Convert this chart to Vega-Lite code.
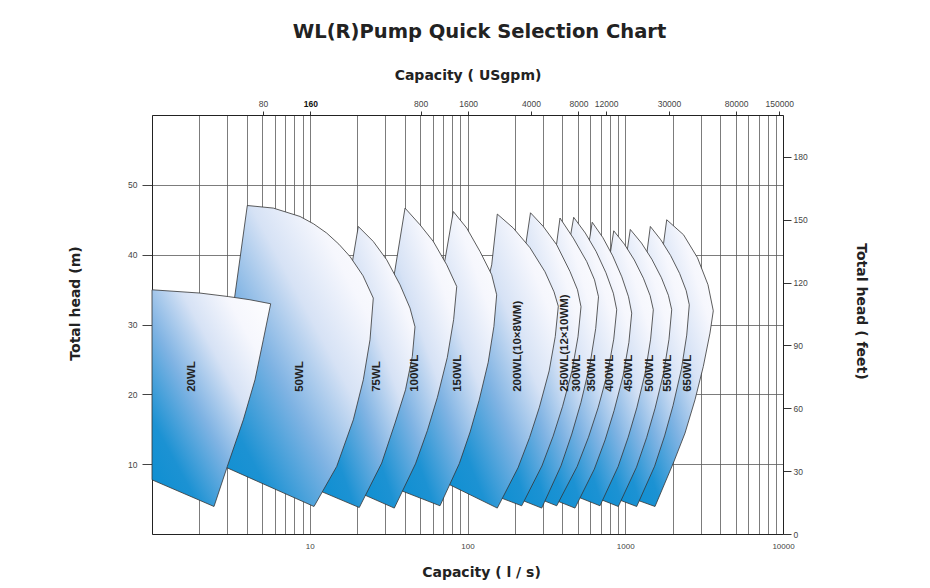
{
"$schema": "https://vega.github.io/schema/vega-lite/v6.json",
"width": 631, "height": 419,
"autosize": {"type": "none"},
"padding": {"left": 152, "top": 115, "right": 147, "bottom": 54},
"background": "white",
"config": {"view": {"stroke": null}, "font": "Liberation Sans"},
"title": {"text": "WL(R)Pump Quick Selection Chart", "font": "DejaVu Sans", "fontSize": 19.5, "fontWeight": "bold", "color": "#222", "dx": 12, "offset": 26},
"datasets": {
"shapes": [
{"pump":"650WL","i":1,"q":1831.4,"h":45.0},{"pump":"650WL","i":2,"q":2341.0,"h":42.85},{"pump":"650WL","i":3,"q":2870.9,"h":39.55},{"pump":"650WL","i":4,"q":3346.0,"h":35.69},{"pump":"650WL","i":5,"q":3615.0,"h":31.96},{"pump":"650WL","i":6,"q":3444.6,"h":28.77},{"pump":"650WL","i":7,"q":3124.8,"h":23.99},{"pump":"650WL","i":8,"q":2768.3,"h":19.22},{"pump":"650WL","i":9,"q":2392.7,"h":14.45},{"pump":"650WL","i":10,"q":2016.4,"h":10.15},{"pump":"650WL","i":11,"q":1544.1,"h":3.94},{"pump":"650WL","i":12,"q":1011.1,"h":5.43},{"pump":"650WL","i":13,"q":1748.0,"h":41.56},{"pump":"650WL","i":14,"q":1831.4,"h":45.0},
{"pump":"550WL","i":1,"q":1441.8,"h":44.04},{"pump":"550WL","i":2,"q":1680.4,"h":42.13},{"pump":"550WL","i":3,"q":1938.7,"h":39.88},{"pump":"550WL","i":4,"q":2211.1,"h":37.31},{"pump":"550WL","i":5,"q":2434.9,"h":34.84},{"pump":"550WL","i":6,"q":2546.8,"h":32.82},{"pump":"550WL","i":7,"q":2452.8,"h":28.48},{"pump":"550WL","i":8,"q":2269.5,"h":23.59},{"pump":"550WL","i":9,"q":2007.6,"h":18.37},{"pump":"550WL","i":10,"q":1776.1,"h":14.05},{"pump":"550WL","i":11,"q":1535.2,"h":9.71},{"pump":"550WL","i":12,"q":1181.9,"h":3.94},{"pump":"550WL","i":13,"q":777.5,"h":5.5},{"pump":"550WL","i":14,"q":1373.8,"h":40.41},{"pump":"550WL","i":15,"q":1441.8,"h":44.04},
{"pump":"500WL","i":1,"q":1076.4,"h":43.61},{"pump":"500WL","i":2,"q":1267.7,"h":41.66},{"pump":"500WL","i":3,"q":1473.7,"h":39.35},{"pump":"500WL","i":4,"q":1695.1,"h":36.7},{"pump":"500WL","i":5,"q":1877.3,"h":34.18},{"pump":"500WL","i":6,"q":1970.3,"h":32.11},{"pump":"500WL","i":7,"q":1893.7,"h":27.88},{"pump":"500WL","i":8,"q":1752.5,"h":23.1},{"pump":"500WL","i":9,"q":1546.1,"h":18.02},{"pump":"500WL","i":10,"q":1365.6,"h":13.79},{"pump":"500WL","i":11,"q":1178.4,"h":9.57},{"pump":"500WL","i":12,"q":903.5,"h":3.94},{"pump":"500WL","i":13,"q":597.7,"h":5.56},{"pump":"500WL","i":14,"q":1025.9,"h":40.41},{"pump":"500WL","i":15,"q":1076.4,"h":43.61},
{"pump":"450WL","i":1,"q":845.3,"h":43.42},{"pump":"450WL","i":2,"q":987.6,"h":41.5},{"pump":"450WL","i":3,"q":1141.2,"h":39.24},{"pump":"450WL","i":4,"q":1303.3,"h":36.63},{"pump":"450WL","i":5,"q":1437.5,"h":34.14},{"pump":"450WL","i":6,"q":1506.3,"h":32.11},{"pump":"450WL","i":7,"q":1448.1,"h":27.9},{"pump":"450WL","i":8,"q":1340.3,"h":23.13},{"pump":"450WL","i":9,"q":1183.6,"h":18.07},{"pump":"450WL","i":10,"q":1044.0,"h":13.86},{"pump":"450WL","i":11,"q":901.0,"h":9.65},{"pump":"450WL","i":12,"q":691.8,"h":4.04},{"pump":"450WL","i":13,"q":433.6,"h":5.87},{"pump":"450WL","i":14,"q":806.6,"h":40.41},{"pump":"450WL","i":15,"q":845.3,"h":43.42},
{"pump":"400WL","i":1,"q":617.4,"h":44.64},{"pump":"400WL","i":2,"q":721.9,"h":42.43},{"pump":"400WL","i":3,"q":832.5,"h":39.83},{"pump":"400WL","i":4,"q":951.0,"h":36.83},{"pump":"400WL","i":5,"q":1048.6,"h":33.97},{"pump":"400WL","i":6,"q":1098.8,"h":31.63},{"pump":"400WL","i":7,"q":1054.6,"h":27.44},{"pump":"400WL","i":8,"q":970.5,"h":22.7},{"pump":"400WL","i":9,"q":849.8,"h":17.67},{"pump":"400WL","i":10,"q":745.5,"h":13.48},{"pump":"400WL","i":11,"q":636.6,"h":9.29},{"pump":"400WL","i":12,"q":480.2,"h":3.71},{"pump":"400WL","i":13,"q":323.8,"h":5.26},{"pump":"400WL","i":14,"q":589.1,"h":41.7},{"pump":"400WL","i":15,"q":617.4,"h":44.64},
{"pump":"350WL","i":1,"q":471.2,"h":45.35},{"pump":"350WL","i":2,"q":558.2,"h":43.1},{"pump":"350WL","i":3,"q":653.5,"h":40.46},{"pump":"350WL","i":4,"q":754.3,"h":37.41},{"pump":"350WL","i":5,"q":840.3,"h":34.48},{"pump":"350WL","i":6,"q":882.8,"h":32.11},{"pump":"350WL","i":7,"q":845.3,"h":27.9},{"pump":"350WL","i":8,"q":774.1,"h":23.13},{"pump":"350WL","i":9,"q":672.9,"h":18.07},{"pump":"350WL","i":10,"q":584.8,"h":13.86},{"pump":"350WL","i":11,"q":495.2,"h":9.65},{"pump":"350WL","i":12,"q":367.7,"h":4.04},{"pump":"350WL","i":13,"q":249.0,"h":5.57},{"pump":"350WL","i":14,"q":449.8,"h":42.7},{"pump":"350WL","i":15,"q":471.2,"h":45.35},
{"pump":"300WL","i":1,"q":385.8,"h":45.24},{"pump":"300WL","i":2,"q":468.5,"h":42.37},{"pump":"300WL","i":3,"q":569.6,"h":39.02},{"pump":"300WL","i":4,"q":638.5,"h":36.4},{"pump":"300WL","i":5,"q":676.8,"h":33.97},{"pump":"300WL","i":6,"q":649.7,"h":29.43},{"pump":"300WL","i":7,"q":597.7,"h":24.29},{"pump":"300WL","i":8,"q":523.6,"h":18.83},{"pump":"300WL","i":9,"q":458.3,"h":14.31},{"pump":"300WL","i":10,"q":391.5,"h":9.77},{"pump":"300WL","i":11,"q":295.4,"h":3.71},{"pump":"300WL","i":12,"q":191.5,"h":5.41},{"pump":"300WL","i":13,"q":366.6,"h":41.44},{"pump":"300WL","i":14,"q":385.8,"h":45.24},
{"pump":"250WL","i":1,"q":250.8,"h":46.0},{"pump":"250WL","i":2,"q":302.3,"h":44.04},{"pump":"250WL","i":3,"q":367.7,"h":41.41},{"pump":"250WL","i":4,"q":446.4,"h":37.59},{"pump":"250WL","i":5,"q":498.2,"h":34.97},{"pump":"250WL","i":6,"q":524.3,"h":32.54},{"pump":"250WL","i":7,"q":501.8,"h":28.25},{"pump":"250WL","i":8,"q":460.3,"h":23.41},{"pump":"250WL","i":9,"q":400.7,"h":18.29},{"pump":"250WL","i":10,"q":348.9,"h":14.01},{"pump":"250WL","i":11,"q":296.2,"h":9.74},{"pump":"250WL","i":12,"q":220.6,"h":4.04},{"pump":"250WL","i":13,"q":138.9,"h":5.76},{"pump":"250WL","i":14,"q":234.9,"h":41.7},{"pump":"250WL","i":15,"q":250.8,"h":46.0},
{"pump":"200WL","i":1,"q":154.5,"h":45.81},{"pump":"200WL","i":2,"q":195.1,"h":43.81},{"pump":"200WL","i":3,"q":249.0,"h":40.99},{"pump":"200WL","i":4,"q":309.9,"h":37.55},{"pump":"200WL","i":5,"q":353.5,"h":34.68},{"pump":"200WL","i":6,"q":376.4,"h":32.61},{"pump":"200WL","i":7,"q":360.0,"h":28.27},{"pump":"200WL","i":8,"q":329.4,"h":23.36},{"pump":"200WL","i":9,"q":285.6,"h":18.16},{"pump":"200WL","i":10,"q":247.6,"h":13.82},{"pump":"200WL","i":11,"q":209.0,"h":9.48},{"pump":"200WL","i":12,"q":154.5,"h":3.71},{"pump":"200WL","i":13,"q":66.94,"h":7.73},{"pump":"200WL","i":14,"q":142.4,"h":38.55},{"pump":"200WL","i":15,"q":154.5,"h":45.81},
{"pump":"150WL","i":1,"q":81.28,"h":46.18},{"pump":"150WL","i":2,"q":98.86,"h":43.81},{"pump":"150WL","i":3,"q":120.0,"h":40.46},{"pump":"150WL","i":4,"q":142.4,"h":37.12},{"pump":"150WL","i":5,"q":153.1,"h":34.25},{"pump":"150WL","i":6,"q":147.0,"h":29.72},{"pump":"150WL","i":7,"q":135.3,"h":24.59},{"pump":"150WL","i":8,"q":118.5,"h":19.15},{"pump":"150WL","i":9,"q":103.9,"h":14.61},{"pump":"150WL","i":10,"q":88.72,"h":10.08},{"pump":"150WL","i":11,"q":66.94,"h":4.04},{"pump":"150WL","i":12,"q":33.22,"h":6.72},{"pump":"150WL","i":13,"q":72.0,"h":39.27},{"pump":"150WL","i":14,"q":81.28,"h":46.18},
{"pump":"100WL","i":1,"q":40.17,"h":46.67},{"pump":"100WL","i":2,"q":50.0,"h":44.28},{"pump":"100WL","i":3,"q":60.72,"h":41.89},{"pump":"100WL","i":4,"q":73.83,"h":38.55},{"pump":"100WL","i":5,"q":85.44,"h":35.44},{"pump":"100WL","i":6,"q":81.65,"h":30.69},{"pump":"100WL","i":7,"q":74.47,"h":25.29},{"pump":"100WL","i":8,"q":64.46,"h":19.58},{"pump":"100WL","i":9,"q":55.69,"h":14.82},{"pump":"100WL","i":10,"q":46.81,"h":10.05},{"pump":"100WL","i":11,"q":34.36,"h":3.71},{"pump":"100WL","i":12,"q":19.36,"h":6.19},{"pump":"100WL","i":13,"q":34.71,"h":37.83},{"pump":"100WL","i":14,"q":40.17,"h":46.67},
{"pump":"75WL","i":1,"q":20.31,"h":44.04},{"pump":"75WL","i":2,"q":25.28,"h":41.89},{"pump":"75WL","i":3,"q":30.74,"h":39.27},{"pump":"75WL","i":4,"q":37.34,"h":35.69},{"pump":"75WL","i":5,"q":43.21,"h":32.35},{"pump":"75WL","i":6,"q":46.47,"h":29.67},{"pump":"75WL","i":7,"q":44.68,"h":25.42},{"pump":"75WL","i":8,"q":40.46,"h":20.65},{"pump":"75WL","i":9,"q":34.71,"h":15.88},{"pump":"75WL","i":10,"q":28.58,"h":10.15},{"pump":"75WL","i":11,"q":20.61,"h":3.79},{"pump":"75WL","i":12,"q":10.72,"h":6.5},{"pump":"75WL","i":13,"q":20.31,"h":44.04},
{"pump":"50WL","i":1,"q":4.019,"h":47.04},{"pump":"50WL","i":2,"q":5.874,"h":46.67},{"pump":"50WL","i":3,"q":8.676,"h":45.47},{"pump":"50WL","i":4,"q":10.6,"h":44.4},{"pump":"50WL","i":5,"q":12.81,"h":43.09},{"pump":"50WL","i":6,"q":15.3,"h":41.5},{"pump":"50WL","i":7,"q":17.99,"h":39.74},{"pump":"50WL","i":8,"q":21.76,"h":36.98},{"pump":"50WL","i":9,"q":25.28,"h":33.78},{"pump":"50WL","i":10,"q":24.1,"h":27.81},{"pump":"50WL","i":11,"q":21.85,"h":22.08},{"pump":"50WL","i":12,"q":18.89,"h":16.35},{"pump":"50WL","i":13,"q":14.82,"h":9.67},{"pump":"50WL","i":14,"q":10.64,"h":3.94},{"pump":"50WL","i":15,"q":2.401,"h":10.44},{"pump":"50WL","i":16,"q":4.019,"h":47.04},
{"pump":"20WL","i":1,"q":1.0,"h":34.97},{"pump":"20WL","i":2,"q":2.015,"h":34.5},{"pump":"20WL","i":3,"q":3.046,"h":34.0},{"pump":"20WL","i":4,"q":4.18,"h":33.54},{"pump":"20WL","i":5,"q":5.655,"h":32.97},{"pump":"20WL","i":6,"q":5.077,"h":27.81},{"pump":"20WL","i":7,"q":4.497,"h":22.08},{"pump":"20WL","i":8,"q":3.792,"h":16.35},{"pump":"20WL","i":9,"q":3.002,"h":9.67},{"pump":"20WL","i":10,"q":2.472,"h":3.94},{"pump":"20WL","i":11,"q":1.0,"h":7.76},{"pump":"20WL","i":12,"q":1.0,"h":34.97}
],
"labels": [
{"name":"20WL","q":1.785,"h":20.36},{"name":"50WL","q":8.676,"h":20.36},{"name":"75WL","q":26.57,"h":20.36},{"name":"100WL","q":46.47,"h":20.36},{"name":"150WL","q":87.44,"h":20.36},{"name":"200WL(10×8WM)","q":209.9,"h":20.36},{"name":"250WL(12×10WM)","q":415.0,"h":20.36},{"name":"300WL","q":492.3,"h":20.36},{"name":"350WL","q":612.9,"h":20.36},{"name":"400WL","q":800.6,"h":20.36},{"name":"450WL","q":1061.0,"h":20.36},{"name":"500WL","q":1435.5,"h":20.36},{"name":"550WL","q":1874.5,"h":20.36},{"name":"650WL","q":2510.0,"h":20.36}
],
"aux": [{"gpm":15.85,"ft":0},{"gpm":158500,"ft":200}]
},
"layer": [
{"layer": [
{"data": {"name": "shapes"},
 "mark": {"type": "line", "stroke": "#333", "strokeWidth": 0.8, "strokeJoin": "miter",
   "fill": {"gradient": "linear", "x1": 0, "y1": 1, "x2": 1, "y2": 0,
     "stops": [{"offset": 0, "color": "#0a8ed1"}, {"offset": 0.2, "color": "#1c92d3"}, {"offset": 0.42, "color": "#7fb3e3"}, {"offset": 0.62, "color": "#d6e2f5"}, {"offset": 0.8, "color": "#f6f7fd"}, {"offset": 1, "color": "#ffffff"}]}},
 "encoding": {
   "x": {"field": "q", "type": "quantitative", "scale": {"type": "log", "domain": [1, 10000]},
     "axis": {"orient": "bottom", "values": [1,2,3,4,5,6,7,8,9,10,20,30,40,50,60,70,80,90,100,200,300,400,500,600,700,800,900,1000,2000,3000,4000,5000,6000,7000,8000,9000,10000],
       "format": "d", "labelExpr": "(datum.value == 10 || datum.value == 100 || datum.value == 1000 || datum.value == 10000) ? datum.label : ''",
       "ticks": false, "tickSize": 0, "grid": true, "gridColor": "#5a5a5a", "gridWidth": 0.8, "domainColor": "#222",
       "labelFont": "Liberation Sans Narrow, Liberation Sans", "labelFontSize": 8, "labelColor": "#444", "labelPadding": 8, "labelFlush": false, "labelOverlap": false,
       "title": "Capacity ( l / s)", "titleFont": "DejaVu Sans", "titleFontSize": 14, "titleFontWeight": "bold", "titleColor": "#222", "titlePadding": 15, "titleX": 329}},
   "y": {"field": "h", "type": "quantitative", "scale": {"domain": [0, 60]},
     "axis": {"orient": "left", "values": [10,20,30,40,50], "grid": true, "gridColor": "#5a5a5a", "gridWidth": 0.8, "tickSize": 10, "tickColor": "#444", "domainColor": "#222",
       "labelFont": "Liberation Sans Narrow, Liberation Sans", "labelFontSize": 8.5, "labelColor": "#444", "labelPadding": 5, "labelOverlap": false,
       "title": "Total head (m)", "titleFont": "DejaVu Sans", "titleFontSize": 14, "titleFontWeight": "bold", "titleColor": "#222", "titlePadding": 45, "titleY": 188}},
   "detail": {"field": "pump"},
   "order": {"field": "i", "type": "quantitative"}
 }},
{"data": {"name": "labels"},
 "mark": {"type": "text", "angle": 270, "align": "left", "baseline": "middle", "font": "Liberation Sans", "fontWeight": "bold", "fontSize": 11.5, "color": "#222"},
 "encoding": {
   "x": {"field": "q", "type": "quantitative"},
   "y": {"field": "h", "type": "quantitative"},
   "text": {"field": "name"}
 }}
]},
{"data": {"name": "aux"},
 "mark": {"type": "point", "opacity": 0},
 "encoding": {
   "x": {"field": "gpm", "type": "quantitative", "scale": {"type": "log", "domain": [15.85, 158500]},
     "axis": {"orient": "top", "values": [80,160,800,1600,4000,8000,12000,30000,80000,150000], "format": "d", "grid": false, "tickSize": 4, "tickColor": "#333", "domainColor": "#222",
       "labelFont": "Liberation Sans Narrow, Liberation Sans", "labelFontSize": 8.5, "labelPadding": 3, "labelFlush": false, "labelOverlap": false,
       "labelColor": {"condition": {"test": "datum.value == 160", "value": "#111"}, "value": "#444"},
       "labelFontWeight": {"condition": {"test": "datum.value == 160", "value": "bold"}, "value": "normal"},
       "title": "Capacity ( USgpm)", "titleFont": "DejaVu Sans", "titleFontSize": 14, "titleFontWeight": "bold", "titleColor": "#222", "titlePadding": 17}},
   "y": {"field": "ft", "type": "quantitative", "scale": {"domain": [0, 200]},
     "axis": {"orient": "right", "values": [0,30,60,90,120,150,180], "grid": false, "tickSize": 8, "tickColor": "#333", "domainColor": "#222",
       "labelFont": "Liberation Sans Narrow, Liberation Sans", "labelFontSize": 8.5, "labelColor": "#444", "labelPadding": 2, "labelOverlap": false,
       "title": "Total head ( feet)", "titleFont": "DejaVu Sans", "titleFontSize": 14, "titleFontWeight": "bold", "titleColor": "#222", "titlePadding": 46, "titleY": 196}}
 }}
],
"resolve": {"scale": {"x": "independent", "y": "independent"}, "axis": {"x": "independent", "y": "independent"}}
}
